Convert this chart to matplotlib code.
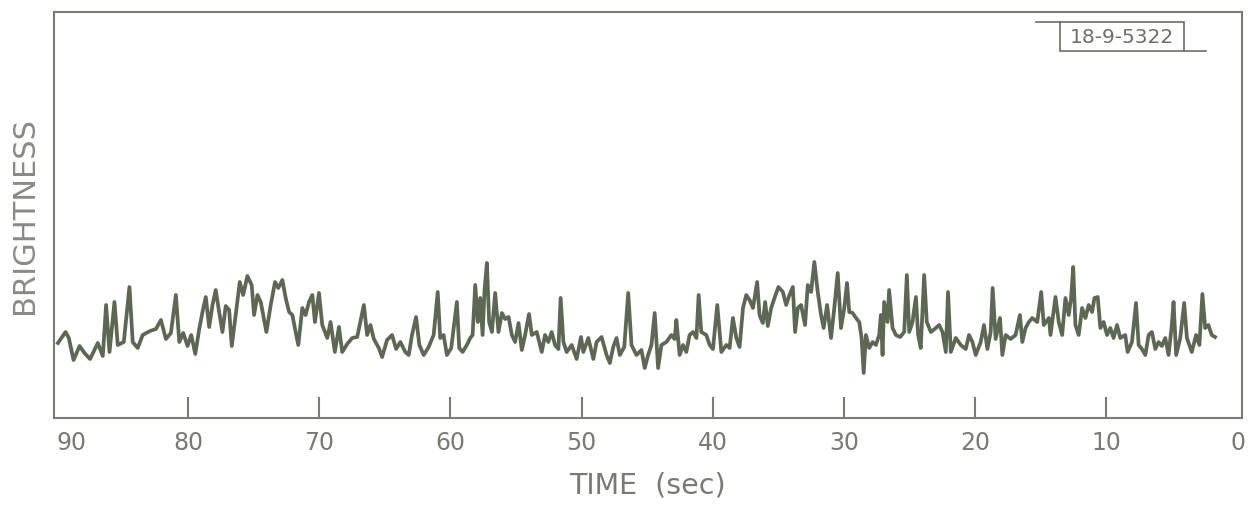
import matplotlib
matplotlib.use("Agg")
import matplotlib.pyplot as plt
from matplotlib.lines import Line2D
from matplotlib.patches import Rectangle

# brightness trace (time in sec, brightness in arbitrary units)
time_s = [89.92, 89.34, 89.09, 88.73, 88.27, 87.9, 87.47, 86.88, 86.5, 86.25, 85.99, 85.61, 85.36, 84.9,
          84.47, 84.22, 83.84, 83.46, 82.9, 82.45, 82.07, 81.69, 81.31, 80.93, 80.67, 80.37, 80.04, 79.76,
          79.45, 79.15, 78.9, 78.65, 78.39, 78.14, 77.89, 77.63, 77.38, 77.13, 76.87, 76.67, 76.37, 76.06,
          75.8, 75.48, 75.15,
          74.97, 74.71, 74.46, 74.03, 73.7, 73.37, 73.12, 72.81, 72.56, 72.3, 72.05, 71.8, 71.6, 71.29,
          71.04, 70.78, 70.53, 70.33, 70.02, 69.77, 69.39, 69.14, 68.81, 68.5, 68.25, 67.87, 67.49, 67.11,
          66.6, 66.35, 66.1, 65.84, 65.46, 65.21, 64.83, 64.45, 64.14, 63.82, 63.44, 63.18, 62.93, 62.62,
          62.37, 62.04, 61.66, 61.28, 60.97, 60.78, 60.52, 60.27, 59.94,
          59.51, 59.33, 59.07, 58.75, 58.49, 58.31, 58.11, 57.91, 57.73, 57.55, 57.4, 57.22, 57.05, 56.84,
          56.59, 56.34, 56.08, 55.83, 55.57, 55.32, 55.07, 54.81, 54.56, 54.31, 54.01, 53.8, 53.42, 53.04,
          52.79, 52.54, 52.28, 52.03, 51.77, 51.6, 51.39, 51.14, 50.76, 50.38, 50.05, 49.87, 49.49, 49.11,
          48.86, 48.48, 48.1, 47.85, 47.59, 47.34, 47.09, 46.75, 46.45, 46.2, 45.82, 45.44, 45.19, 44.93,
          44.68,
          44.43, 44.17, 43.92, 43.54, 43.16, 42.91, 42.78, 42.53, 42.27, 42.02, 41.77, 41.51, 41.25, 41.08,
          40.88, 40.5, 40.24, 39.99, 39.66, 39.35, 38.97, 38.72, 38.47, 38.21, 37.96, 37.7, 37.45, 37.2,
          36.94, 36.62, 36.44, 36.19, 36.01, 35.81, 35.55, 35.3, 35.0, 34.66, 34.41, 34.16, 33.9, 33.73,
          33.52, 33.27, 32.97, 32.76, 32.51, 32.26, 32.0, 31.75, 31.55, 31.29, 30.99, 30.74, 30.48, 30.23,
          29.98, 29.77,
          29.6, 29.34, 29.09, 28.84, 28.66, 28.5, 28.33, 28.08, 27.82, 27.57, 27.32, 27.19, 27.06, 26.94,
          26.68, 26.56, 26.3, 26.05, 25.72, 25.41, 25.21, 25.03, 24.78, 24.52, 24.35, 24.15, 23.89, 23.69,
          23.38, 23.0, 22.75, 22.49, 22.24, 22.07, 21.86, 21.48, 21.1, 20.72, 20.47, 20.21, 19.96, 19.58,
          19.33, 19.07, 18.82, 18.67, 18.44, 18.11, 17.93, 17.68, 17.3, 16.92, 16.59, 16.41, 16.16, 15.91,
          15.65, 15.27, 14.97, 14.77, 14.38,
          14.26, 13.88, 13.63, 13.37, 13.12, 12.87, 12.69, 12.53, 12.36, 12.11, 11.85, 11.6, 11.35, 11.09,
          10.91, 10.66, 10.46, 10.21, 9.95, 9.7, 9.45, 9.19, 8.94, 8.56, 8.38, 8.05, 7.74, 7.54, 7.29, 7.03,
          6.78, 6.53, 6.27, 6.02, 5.77, 5.51, 5.26, 5.01, 4.88, 4.68, 4.37, 4.07, 3.86, 3.49, 3.16, 2.91,
          2.68, 2.47, 2.22, 1.97, 1.72]

brightness = [75, 86, 80, 58, 72, 65, 59, 75, 62, 113, 66, 116, 73, 76,
              131, 76, 70, 83, 87, 89, 98, 79, 85, 123, 76, 85, 72, 83,
              64, 89, 106, 121, 91, 113, 128, 106, 86, 112, 108, 72, 103, 136,
              123, 142, 133,
              103, 123, 116, 86, 113, 136, 130, 138, 120, 106, 103, 86, 73, 110,
              103, 116, 123, 96, 125, 93, 80, 96, 66, 91, 66, 74, 80, 81,
              113, 83, 93, 79, 70, 61, 78, 83, 69, 76, 66, 63, 83, 101,
              73, 63, 71, 83, 126, 80, 83, 63, 70,
              116, 70, 66, 73, 80, 83, 133, 96, 120, 83, 128, 155, 96, 86,
              125, 86, 105, 99, 101, 83, 76, 95, 68, 83, 104, 83, 86, 66,
              83, 76, 86, 73, 69, 120, 76, 66, 73, 59, 81, 66, 80, 59,
              76, 81, 63, 55, 71, 80, 63, 71, 125, 73, 63, 68, 50, 63,
              73,
              105, 50, 73, 76, 83, 79, 98, 63, 73, 66, 83, 86, 80, 123,
              86, 83, 73, 69, 113, 66, 73, 70, 100, 80, 71, 110, 123, 118,
              110, 136, 103, 95, 116, 92, 110, 120, 131, 126, 113, 123, 131, 86,
              110, 113, 93, 133, 126, 156, 126, 103, 90, 113, 80, 110, 145, 90,
              110, 135,
              106, 105, 100, 96, 80, 45, 83, 70, 76, 73, 83, 103, 63, 116,
              96, 128, 90, 83, 81, 86, 143, 86, 96, 121, 83, 70, 143, 96,
              86, 90, 93, 86, 66, 126, 66, 80, 73, 69, 83, 76, 63, 76,
              93, 69, 86, 130, 79, 100, 63, 83, 79, 83, 103, 76, 90, 96,
              100, 96, 126, 93, 100,
              83, 121, 96, 83, 120, 103, 120, 151, 93, 83, 110, 100, 113, 106,
              120, 121, 90, 96, 83, 90, 80, 93, 80, 83, 66, 76, 115, 73, 69, 63,
              83, 86, 69, 76, 72, 80, 63, 93, 116, 63, 80, 115, 80, 66, 83, 73,
              124, 90, 93, 83, 81]

time_ticks = [90, 80, 70, 60, 50, 40, 30, 20, 10, 0]
stamp_label = '18-9-5322'

axis_color = '#7b7b73'
trace_color = '#5d6854'

fig = plt.figure(figsize=(12.49, 5.11), dpi=100)
ax = fig.add_axes([54 / 1249, 93 / 511, 1187.5 / 1249, 406 / 511])

ax.plot(time_s, brightness, color=trace_color, lw=2.7)

ax.set_xlim(90.22, -0.3)
ax.set_ylim(0, 406)
ax.set_yticks([])
ax.set_xticks(time_ticks)
ax.set_xticklabels([str(t) for t in time_ticks])
ax.tick_params(axis='x', direction='in', length=15, width=1.5, color=axis_color,
               labelsize=17, labelcolor='#7a7a72', pad=9)
ax.get_xticklabels()[0].set_ha('left')
ax.get_xticklabels()[0].set_x(89.9)
# the end ticks sit on the frame, so no separate tick marks there
major = ax.xaxis.get_major_ticks()
major[0].tick1line.set_visible(False)
major[-1].tick1line.set_visible(False)
for s in ax.spines.values():
    s.set_color(axis_color)
    s.set_linewidth(1.5)

ax.set_xlabel('TIME  (sec)', fontsize=20.5, color='#7a7a72', labelpad=12)
ax.set_ylabel('BRIGHTNESS', fontsize=22, color='#8a8a82', labelpad=11)

# stamp in the upper right corner
stamp_color = '#6e6e66'
ax.add_patch(Rectangle((0.8474, 0.9039), 0.1045, 0.0715, transform=ax.transAxes,
                       fill=False, edgecolor=stamp_color, lw=1.2))
ax.add_line(Line2D([0.8272, 0.8474], [0.9754, 0.9754], transform=ax.transAxes,
                   color=stamp_color, lw=1.2))
ax.add_line(Line2D([0.9519, 0.9705], [0.9039, 0.9039], transform=ax.transAxes,
                   color=stamp_color, lw=1.2))
ax.text(0.8995, 0.9384, stamp_label, transform=ax.transAxes, fontsize=14.5,
        color=stamp_color, ha='center', va='center')

fig.savefig('out.png', dpi=100, facecolor='white')
